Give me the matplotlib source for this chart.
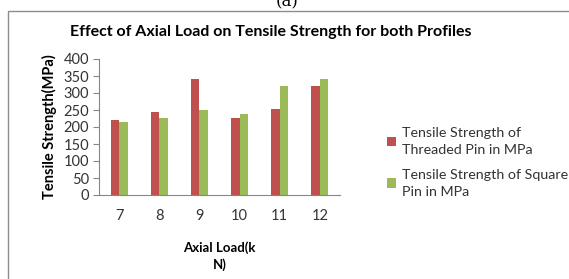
import numpy as np
import matplotlib.pyplot as plt
from matplotlib.patches import Rectangle

# data
loads = ['7', '8', '9', '10', '11', '12']
threaded = [220, 244, 341, 227, 252, 322]
square = [216, 227, 249, 238, 322, 341]
labels = ['Tensile Strength of\nThreaded Pin in MPa',
          'Tensile Strength of Square\nPin in MPa']

plt.rcParams['font.family'] = ['Lato', 'DejaVu Sans']

W, H = 569, 279
fig = plt.figure(figsize=(W / 100, H / 100), dpi=100)

# outer chart frame
fig.patches.append(Rectangle((8 / W, -0.1), 1.2, 1 - 11 / H + 0.1,
                             transform=fig.transFigure, fill=False,
                             edgecolor='#8c8c8c', linewidth=1.0))
fig.text(0.505, 1 - 2 / H, '(a)', ha='center', va='center', fontsize=12,
         family='DejaVu Serif')

ax = fig.add_axes([99 / W, 1 - 195 / H, 241 / W, 136 / H])
x = np.arange(len(loads))
w = 0.21
b1 = ax.bar(x - w / 2, threaded, w, color='#C0504D', label=labels[0])
b2 = ax.bar(x + w / 2, square, w, color='#9BBB59', label=labels[1])

ax.set_xlim(-0.5, len(loads) - 0.5)
ax.set_ylim(0, 400)
ax.set_yticks(range(0, 401, 50))
ax.set_xticks(x)
ax.set_xticklabels(loads)
for s in ['top', 'right']:
    ax.spines[s].set_visible(False)
for s in ['left', 'bottom']:
    ax.spines[s].set_color('#868686')
    ax.spines[s].set_linewidth(0.8)
ax.tick_params(axis='y', length=4, color='#868686', labelsize=10.5, pad=3,
               labelcolor='#333333')
ax.tick_params(axis='x', length=0, labelsize=10.5, pad=10,
               labelcolor='#333333')

ax.set_ylabel('Tensile Strength(MPa)', fontsize=10.5, fontweight='bold',
              labelpad=5)
ax.set_xlabel('Axial Load(k\nN)', fontsize=9.5, fontweight='bold',
              labelpad=13, linespacing=1.45)

fig.text(0.5 * (70 + 472) / W, 1 - 32 / H,
         'Effect of Axial Load on Tensile Strength for both Profiles',
         ha='center', va='center', fontsize=11.5, fontweight='bold')

fig.legend(handles=[b1, b2], loc='upper left',
           bbox_to_anchor=(374 / W, 1 - 114 / H), frameon=False,
           fontsize=10.3, handlelength=0.65, handleheight=0.65,
           handletextpad=0.4, labelspacing=0.9, labelcolor='#333333')
for t in fig.legends[0].get_texts():
    t.set_linespacing(1.5)

fig.savefig('out.png', dpi=100)
